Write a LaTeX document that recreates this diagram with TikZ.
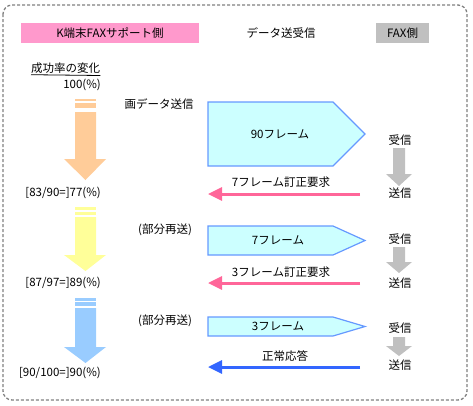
\documentclass[tikz,border=0pt]{standalone}
\usepackage{fontspec}
\setmainfont{Noto Sans CJK JP}
\usetikzlibrary{arrows.meta}
\definecolor{hdrpink}{HTML}{FF99CC}
\definecolor{hdrgray}{HTML}{C0C0C0}
\definecolor{orng}{HTML}{FFCC99}
\definecolor{yell}{HTML}{FFFF99}
\definecolor{lblue}{HTML}{99CCFF}
\definecolor{pentfill}{HTML}{CCFFFF}
\definecolor{pentline}{HTML}{6699FF}
\definecolor{reqpink}{HTML}{FF6699}
\definecolor{okblue}{HTML}{3366FF}
\definecolor{frame}{HTML}{808080}
\tikzset{
  txt/.style={inner sep=0pt, font=\fontsize{11.5}{13}\selectfont},
  hdr/.style={txt, minimum height=20pt, anchor=center},
  pent/.style={fill=pentfill, draw=pentline, line width=1.2pt, line join=miter},
  reqline/.style={line width=3pt, -{Triangle[length=14pt,width=13pt]}},
  grayarrow/.style={fill=hdrgray, draw=none},
}
\begin{document}
\begin{tikzpicture}[x=1pt,y=-1pt]
\useasboundingbox (0,0) rectangle (473,405);
% outer frame
\draw[frame, line width=1.3pt, dash pattern=on 3pt off 2pt, rounded corners=9pt] (3,5) rectangle (467,400);

% headers
\node[hdr, fill=hdrpink, minimum width=178pt] (kside) at (110,33) {K端末FAXサポート側};
\node[txt] (mid) at (281,33) {データ送受信};
\node[hdr, fill=hdrgray, minimum width=53pt] (faxside) at (402.5,33) {FAX側};

% success rate
\node[txt, anchor=base west] (rate) at (31,72) {成功率の変化};
\draw[line width=0.8pt] (rate.south west) ++(0,1.5) -- (rate.south east |- 0,75.5);
\node[txt, anchor=east] (r0) at (101,85) {100(\%)};
\node[txt, anchor=east] (r1) at (101,193) {[83/90=]77(\%)};
\node[txt, anchor=east] (r2) at (101,283) {[87/97=]89(\%)};
\node[txt, anchor=east] (r3) at (101,373) {[90/100=]90(\%)};

% big arrows
\foreach \c/\a/\b/\d/\e/\s/\h/\t in {orng/99/101/103/108/112/159/180, yell/207/210/212/215/217/255/271, lblue/298/301/302/306/308/347/363}{
  \fill[\c] (75,\a) rectangle (96,\b);
  \fill[\c] (75,\d) rectangle (96,\e);
  \fill[\c] (75,\s) -- (96,\s) -- (96,\h) -- (106,\h) -- (85.5,\t) -- (64,\h) -- (75,\h) -- cycle;
}

% left labels
\node[txt] (send0) at (159,104) {画データ送信};
\node[txt] (part1) at (165,230) {(部分再送)};
\node[txt] (part2) at (165,321) {(部分再送)};

% pentagons
\draw[pent] (208,102) -- (333,102) -- (365,134) -- (333,166) -- (208,166) -- cycle;
\node[txt] (f90) at (280,134) {90フレーム};
\draw[pent] (208,226) -- (333,226) -- (365,240.5) -- (333,255) -- (208,255) -- cycle;
\node[txt] (f7) at (278,240.5) {7フレーム};
\draw[pent] (208,317) -- (333,317) -- (365,326.5) -- (333,336) -- (208,336) -- cycle;
\node[txt] (f3) at (278,326.5) {3フレーム};

% FAX side
\node[txt] (rx1) at (400,140) {受信};
\node[txt] (tx1) at (400,193) {送信};
\node[txt] (rx2) at (400,239) {受信};
\node[txt] (tx2) at (400,283) {送信};
\node[txt] (rx3) at (400,328) {受信};
\node[txt] (tx3) at (400,365) {送信};
\fill[grayarrow] (393,148) -- (405,148) -- (405,174) -- (412,174) -- (399,186) -- (386,174) -- (393,174) -- cycle;
\fill[grayarrow] (393,247) -- (405,247) -- (405,262) -- (412,262) -- (399,273) -- (386,262) -- (393,262) -- cycle;
\fill[grayarrow] (393,337) -- (405,337) -- (405,346) -- (412,346) -- (399,356) -- (386,346) -- (393,346) -- cycle;

% reply arrows
\coordinate (a1s) at (360,194); \coordinate (a1e) at (208,194);
\coordinate (a2s) at (360,283); \coordinate (a2e) at (208,283);
\coordinate (a3s) at (360,367); \coordinate (a3e) at (208,367);
\draw[reqline, reqpink] (a1s) -- (a1e);
\draw[reqline, reqpink] (a2s) -- (a2e);
\draw[reqline, okblue] (a3s) -- (a3e);
\node[txt] (l1) at (281,182) {7フレーム訂正要求};
\node[txt] (l2) at (281,272) {3フレーム訂正要求};
\node[txt] (l3) at (285,356) {正常応答};
\end{tikzpicture}
\end{document}
